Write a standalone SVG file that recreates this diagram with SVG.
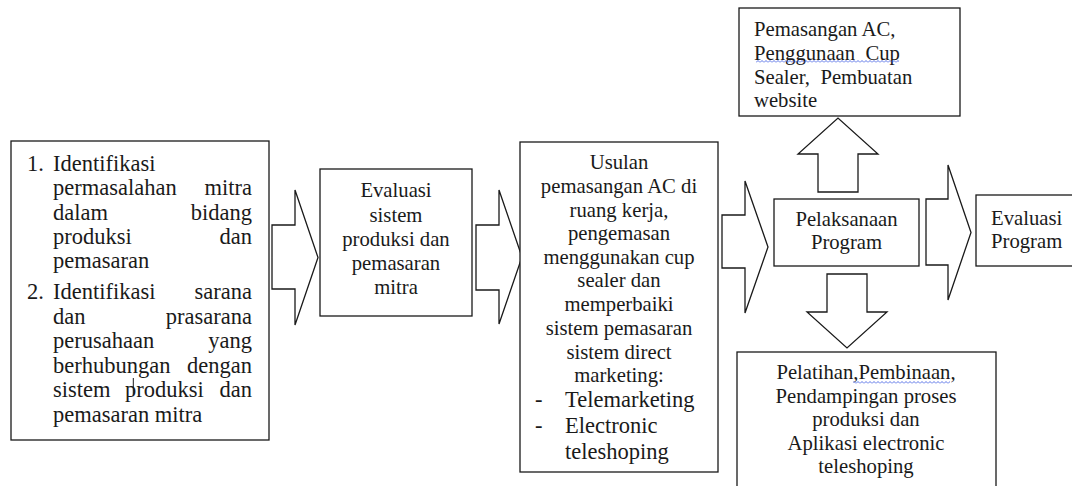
<svg xmlns="http://www.w3.org/2000/svg" width="1072" height="486" viewBox="0 0 1072 486" font-family="Liberation Serif, Tinos, DejaVu Serif, serif">
<defs>
<pattern id="squiggle" width="4" height="3" patternUnits="userSpaceOnUse">
<path d="M0,2.5 L2,0.5 L4,2.5" fill="none" stroke="#2f4fe0" stroke-width="0.8"/>
</pattern>
</defs>
<style>
.box{fill:#ffffff;stroke:#1a1a1a;stroke-width:1.3}
.arr{fill:#ffffff;stroke:#1a1a1a;stroke-width:1.3;stroke-linejoin:miter}
text{font-family:'Liberation Serif',Tinos,'DejaVu Serif',serif;fill:#1a1a1a}
.t{font-size:20.7px}
.b{font-size:22.5px}
.c{text-anchor:middle}
.e{text-anchor:end}
</style>
<rect width="1072" height="486" fill="#ffffff"/>
<g id="connectors">
<path class="arr" d="M272,225 H295 V190 L318,257.5 L295,325 V289 H272 Z"/>
<path class="arr" d="M476,225 H499 V190 L522,257 L499,324 V290 H476 Z"/>
<path class="arr" d="M722,215 H745 V181 L768,247 L745,313 V268 H722 Z"/>
<path class="arr" d="M926,199 H948 V165 L971,232.5 L948,300 V265 H926 Z"/>
<path class="arr" d="M818,192 V154 H798 L838,118 L878,154 H858 V192 Z"/>
<path class="arr" d="M827,274 H867 V312 H887 L847,348 L807,312 H827 Z"/>
</g>
<g id="node-identifikasi">
<rect class="box" x="11" y="141" width="258" height="299"/>
<text class="b" x="27" y="171">1.</text>
<text class="b" x="53" y="171">Identifikasi</text>
<text class="b" x="53" y="195.3">permasalahan</text>
<text class="b e" x="252" y="195.3">mitra</text>
<text class="b" x="53" y="219.6">dalam</text>
<text class="b e" x="252" y="219.6">bidang</text>
<text class="b" x="53" y="243.9">produksi</text>
<text class="b e" x="252" y="243.9">dan</text>
<text class="b" x="53" y="268.2">pemasaran</text>
<text class="b" x="27" y="299">2.</text>
<text class="b" x="53" y="299">Identifikasi</text>
<text class="b e" x="252" y="299">sarana</text>
<text class="b" x="53" y="323.6">dan</text>
<text class="b e" x="252" y="323.6">prasarana</text>
<text class="b" x="53" y="348.2">perusahaan</text>
<text class="b e" x="252" y="348.2">yang</text>
<text class="b" x="53" y="372.8">berhubungan</text>
<text class="b e" x="252" y="372.8">dengan</text>
<text class="b" x="53" y="397.4">sistem</text>
<text class="b" x="125" y="397.4">produksi</text>
<text class="b e" x="252" y="397.4">dan</text>
<text class="b" x="53" y="422">pemasaran mitra</text>
<line x1="133.3" y1="378" x2="133.3" y2="395" stroke="#1a1a1a" stroke-width="1"/>
</g>
<g id="node-evaluasi-sistem">
<rect class="box" x="320" y="169" width="152" height="147"/>
<text class="t c" x="396" y="197">Evaluasi</text>
<text class="t c" x="396" y="221.5">sistem</text>
<text class="t c" x="396" y="246">produksi dan</text>
<text class="t c" x="396" y="270">pemasaran</text>
<text class="t c" x="396" y="294">mitra</text>
</g>
<g id="node-usulan">
<rect class="box" x="520" y="142" width="198" height="330"/>
<text class="t c" x="619" y="168.5">Usulan</text>
<text class="t c" x="619" y="192.5">pemasangan AC di</text>
<text class="t c" x="619" y="216.5">ruang kerja,</text>
<text class="t c" x="619" y="240">pengemasan</text>
<text class="t c" x="619" y="263.5">menggunakan cup</text>
<text class="t c" x="619" y="287">sealer dan</text>
<text class="t c" x="619" y="311">memperbaiki</text>
<text class="t c" x="619" y="335">sistem pemasaran</text>
<text class="t c" x="619" y="359">sistem direct</text>
<text class="t c" x="619" y="382">marketing:</text>
<text class="b" x="535" y="407">-</text>
<text class="b" x="565" y="407">Telemarketing</text>
<text class="b" x="535" y="433">-</text>
<text class="b" x="565" y="433">Electronic</text>
<text class="b" x="565" y="459">teleshoping</text>
</g>
<g id="node-pelaksanaan">
<rect class="box" x="774" y="199" width="145" height="67"/>
<text class="t c" x="846.5" y="226">Pelaksanaan</text>
<text class="t c" x="846.5" y="248.5">Program</text>
</g>
<g id="node-evaluasi-program">
<rect class="box" x="976" y="195" width="110" height="71"/>
<text class="t" x="991" y="225">Evaluasi</text>
<text class="t" x="991" y="248">Program</text>
</g>
<g id="node-pemasangan">
<rect class="box" x="739" y="8" width="221" height="108"/>
<text class="t" x="754" y="35.8" xml:space="preserve">Pemasangan AC,</text>
<text class="t" x="754" y="59.8" xml:space="preserve">Penggunaan  Cup</text>
<rect x="756" y="60" width="143" height="3" fill="url(#squiggle)"/>
<text class="t" x="754" y="83.8" xml:space="preserve">Sealer,  Pembuatan</text>
<text class="t" x="754" y="107">website</text>
</g>
<g id="node-pelatihan">
<rect class="box" x="737" y="352" width="259" height="150"/>
<text class="t c" x="866" y="379">Pelatihan,Pembinaan,</text>
<rect x="853" y="381" width="97" height="3" fill="url(#squiggle)"/>
<text class="t c" x="866" y="402.5">Pendampingan proses</text>
<text class="t c" x="866" y="426">produksi dan</text>
<text class="t c" x="866" y="449.5">Aplikasi electronic</text>
<text class="t c" x="866" y="472.5">teleshoping</text>
</g>
</svg>
